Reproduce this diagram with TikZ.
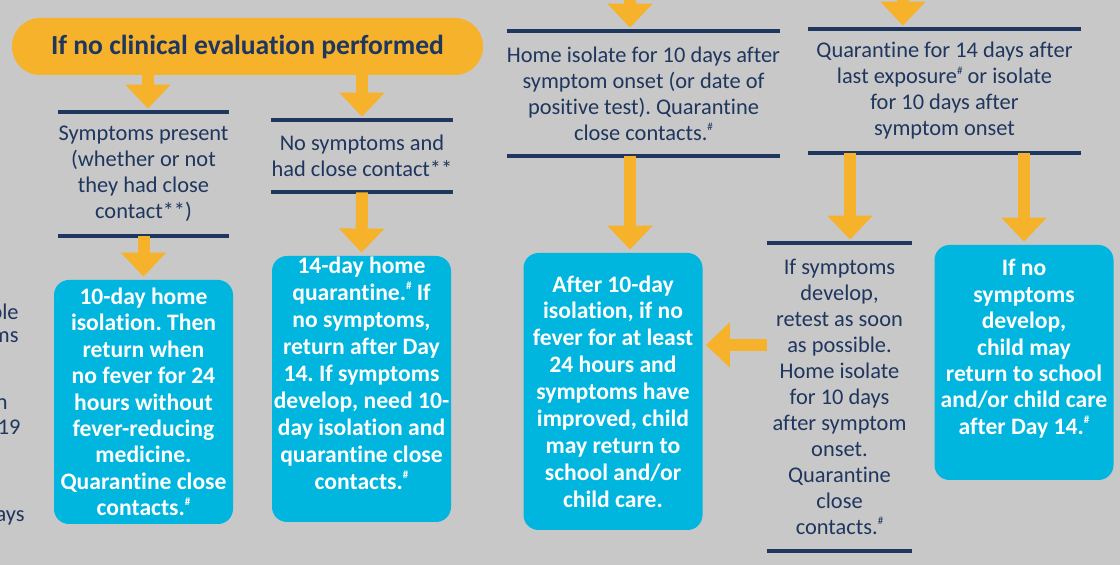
\documentclass[tikz,border=0pt]{standalone}
\usepackage{fontspec}
\setmainfont[Ligatures={NoCommon}]{Carlito}
\usetikzlibrary{arrows.meta,positioning}
\definecolor{bggray}{HTML}{C8C8C8}
\definecolor{navy}{HTML}{1F365E}
\definecolor{amber}{HTML}{F6B22A}
\definecolor{cyanbox}{HTML}{00B6DF}
\newcommand{\hsh}{\raisebox{.9ex}{\fontsize{5.5}{6}\selectfont\#}}
\frenchspacing
\tikzset{
  rule/.style={draw=navy,line width=2pt},
  body/.style={text=navy,align=center,font=\fontsize{11.2}{13}\selectfont},
  ruled/.style={body,inner sep=0pt,
    append after command={(\tikzlastnode.north west) edge[rule] (\tikzlastnode.north east)
      (\tikzlastnode.south west) edge[rule] (\tikzlastnode.south east)}},
  bluebox/.style={fill=cyanbox,rounded corners=7.5pt,text=white,align=center,
    font=\fontsize{11.8}{13.2}\selectfont\bfseries,minimum width=89.5pt,inner sep=0pt},
  pill/.style={fill=amber,rounded corners=14pt,text=navy,
    font=\fontsize{13.8}{16}\selectfont\bfseries},
  flow/.style={draw=amber,line width=6pt,-{Triangle[width=22pt,length=12pt]},shorten >=1.5pt},
}
\begin{document}
\begin{tikzpicture}[x=.5pt,y=-.5pt]
\fill[bggray] (0,0) rectangle (1120,565);
\useasboundingbox (0,0) rectangle (1120,565);
% arrow lanes
\path (148,0) coordinate (a1) (362,0) coordinate (a2) (630,0) coordinate (a5)
  (903,0) coordinate (a6) (850,0) coordinate (a7) (1024,0) coordinate (a8)
  (0,345) coordinate (ar) (630,-40) coordinate (inA) (903,-40) coordinate (inB);
% no evaluation branch
\node[pill,minimum width=235.5pt,minimum height=28.5pt] (eval) at (247.5,46.5) {If no clinical evaluation performed};
\node[ruled,minimum width=82.5pt,minimum height=62pt] (sympt) at (143.5,174)
  {Symptoms present\\(whether or not\\they had close\\contact**)};
\node[ruled,minimum width=82pt,minimum height=36pt] (nosympt) at (362,156)
  {No symptoms and\\had close contact**};
\node[bluebox,minimum height=122pt] (iso10) at (143.5,402)
  {10-day home\\isolation. Then\\return when\\no fever for 24\\hours without\\fever-reducing\\medicine.\\Quarantine close\\contacts.\hsh};
\node[bluebox,minimum height=133pt,font=\fontsize{11.8}{13.5}\selectfont\bfseries] (quar14) at (361.5,389)
  {14-day home\\quarantine.\hsh{} If\\no symptoms,\\return after Day\\14. If symptoms\\develop, need 10-\\day isolation and\\quarantine close\\contacts.\hsh\\[-1.5pt]\strut};
% right branches
\node[ruled,minimum width=134pt,minimum height=62.5pt] (isolate) at (643.5,93.5)
  {Home isolate for 10 days after\\symptom onset (or date of\\positive test). Quarantine\\close contacts.\hsh};
\node[ruled,minimum width=136.5pt,minimum height=62pt] (quar) at (944.5,91)
  {Quarantine for 14 days after\\last exposure\hsh{} or isolate\\for 10 days after\\symptom onset};
\node[bluebox,minimum height=138.5pt,font=\fontsize{11.8}{13.45}\selectfont\bfseries] (after10) at (613,391.5)
  {After 10-day\\isolation, if no\\fever for at least\\24 hours and\\symptoms have\\improved, child\\may return to\\school and/or\\child care.};
\node[ruled,minimum width=72.5pt,minimum height=154pt] (retest) at (839.5,397)
  {If symptoms\\develop,\\retest as soon\\as possible.\\Home isolate\\for 10 days\\after symptom\\onset.\\Quarantine\\close\\contacts.\hsh};
\node[bluebox,minimum height=117.5pt] (nosymdev) at (1024,362.5)
  {If no\\symptoms\\develop,\\child may\\return to school\\and/or child care\\after Day 14.\hsh\\[-1.5pt]\strut};
% cut-off text at the left edge
\foreach \t/\x/\y in {ple/19/314,ms/19/337,n/8/404,-19/21/427,ays/25/518}
  \node[body,anchor=east,inner sep=0pt] (frag\y) at (\x,\y) {\t};
% connectors
\draw[flow] (eval.south -| a1) -- (sympt.north -| a1);
\draw[flow] (eval.south -| a2) -- (nosympt.north -| a2);
\draw[flow] (sympt.south) -- (iso10.north);
\draw[flow] (nosympt.south) -- (quar14.north);
\draw[flow] (inA) -- (isolate.north -| inA);
\draw[flow] (inB) -- (quar.north -| inB);
\draw[flow] (isolate.south -| a5) -- (after10.north -| a5);
\draw[flow] (quar.south -| a7) -- (retest.north -| a7);
\draw[flow] (quar.south -| a8) -- (nosymdev.north -| a8);
\draw[flow] (retest.west |- ar) -- (after10.east |- ar);
\end{tikzpicture}
\end{document}
